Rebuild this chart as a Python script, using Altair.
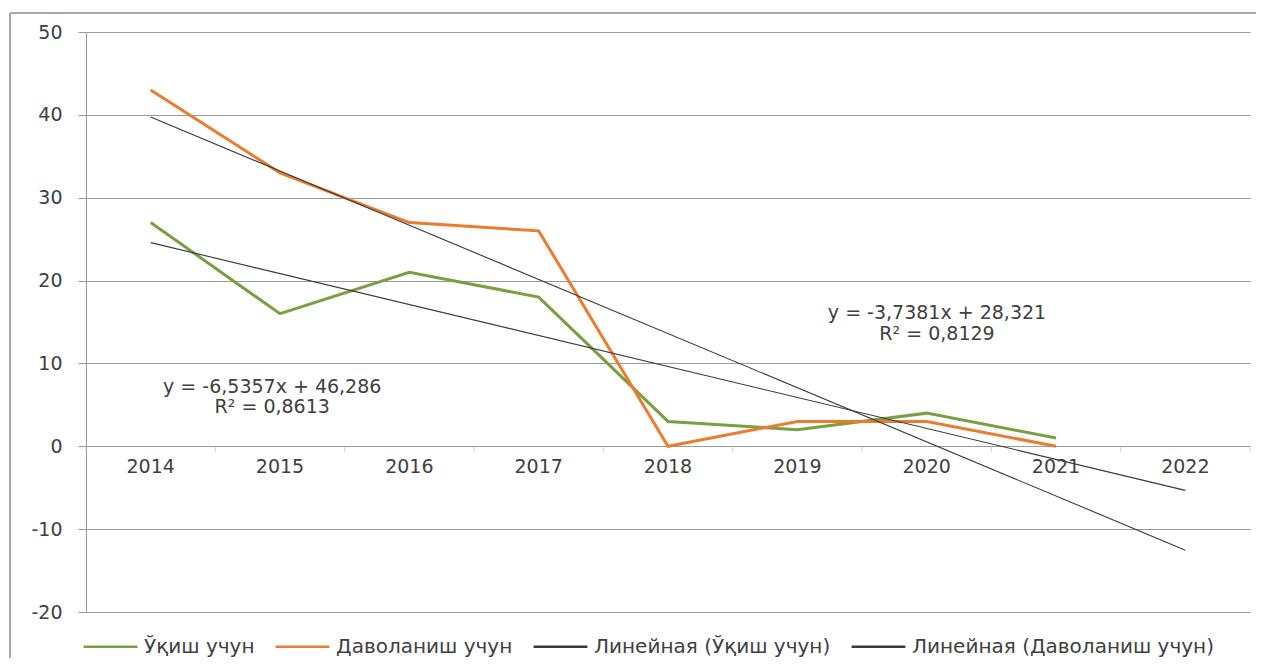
import altair as alt
import pandas as pd

years = ["2014", "2015", "2016", "2017", "2018", "2019", "2020", "2021", "2022"]
study = [27, 16, 21, 18, 3, 2, 4, 1]          # Ўқиш учун
treat = [43, 33, 27, 26, 0, 3, 3, 0]          # Даволаниш учун
series_names = ["Ўқиш учун", "Даволаниш учун"]
trend_names = ["Линейная (Ўқиш учун)", "Линейная (Даволаниш учун)"]
all_names = series_names + trend_names
colors = ["#78A040", "#EC7B2E", "#3a3a3a", "#3a3a3a"]

ann_text = ["y = -6,5357x + 46,286", "R² = 0,8613", "y = -3,7381x + 28,321", "R² = 0,8129"]
ann_x = [1.94, 1.94, 7.08, 7.08]
ann_y = [7.2, 4.7, 16.1, 13.6]

FONT = "DejaVu Sans"
TXT = "#404040"
GRID = "#9a9a9a"

rows = []
for i, v in enumerate(study):
    rows.append({"idx": i + 1, "value": v, "series": series_names[0], "name": series_names[0]})
for i, v in enumerate(treat):
    rows.append({"idx": i + 1, "value": v, "series": series_names[1], "name": series_names[1]})
df = pd.DataFrame(rows)

years_df = pd.DataFrame({"idx": list(range(1, len(years) + 1)), "value": 0, "label": years})
ticks_df = pd.DataFrame({"idx": [i + 0.5 for i in range(len(years) + 1)], "value": 0})
ann_df = pd.DataFrame({"idx": ann_x, "value": ann_y, "t": ann_text})

xscale = alt.Scale(domain=[0.5, len(years) + 0.5], nice=False, zero=False)
yscale = alt.Scale(domain=[-20, 50], nice=False)
yaxis = alt.Axis(
    values=list(range(-20, 51, 10)), title=None, grid=True, gridColor=GRID,
    domainColor=GRID, tickColor=GRID, tickSize=8, labelPadding=16,
    labelFont=FONT, labelFontSize=19, labelColor=TXT,
    labelExpr="'' + datum.value",
)
X = alt.X("idx:Q", scale=xscale, axis=None)
Y = alt.Y("value:Q", scale=yscale, axis=yaxis)

color = alt.Color(
    "name:N",
    scale=alt.Scale(domain=all_names, range=colors),
    legend=alt.Legend(
        title=None, orient="none", legendX=-4, legendY=586, direction="horizontal",
        symbolType="stroke", symbolSize=2900, symbolStrokeWidth=2.5, labelFont=FONT,
        labelFontSize=20, labelColor=TXT, columnPadding=15, labelOffset=5, labelLimit=0,
    ),
)

one = pd.DataFrame({"a": [0]})
frame_left = alt.Chart(one).mark_rule(stroke="#a8a8a8", strokeWidth=2).encode(
    x=alt.value(-76), y=alt.value(-19), y2=alt.value(900))
frame_top = alt.Chart(one).mark_rule(stroke="#a8a8a8", strokeWidth=2).encode(
    x=alt.value(-76), x2=alt.value(1170), y=alt.value(-19))

lines = alt.Chart(df).mark_line(strokeWidth=3).encode(
    x=X, y=Y, color=color, detail="series:N",
)

trend = alt.Chart(df).transform_regression(
    "idx", "value", groupby=["series"], extent=[1, len(years)]
).transform_calculate(
    name="'Линейная (' + datum.series + ')'"
).mark_line(strokeWidth=1.1).encode(
    x=X, y=Y, color=color, detail="series:N",
)

xticks = alt.Chart(ticks_df).mark_tick(orient="vertical", size=6, thickness=1, color="#bbbbbb", yOffset=3).encode(
    x=X, y=Y,
)

xlabels = alt.Chart(years_df).mark_text(dy=21, font=FONT, fontSize=19, color=TXT, baseline="middle").encode(
    x=X, y=Y, text="label:N",
)

ann = alt.Chart(ann_df).mark_text(font=FONT, fontSize=19, color=TXT, baseline="middle", align="center").encode(
    x=X, y=Y, text="t:N",
)

chart = alt.layer(frame_left, frame_top, lines, trend, xticks, xlabels, ann).properties(
    width=1164, height=580,
    autosize=alt.AutoSizeParams(type="none"),
    padding={"left": 78, "top": 24, "right": 8, "bottom": 46},
).configure_view(stroke=None)

chart.save("out.html", embed_options={"renderer": "svg", "actions": False})
